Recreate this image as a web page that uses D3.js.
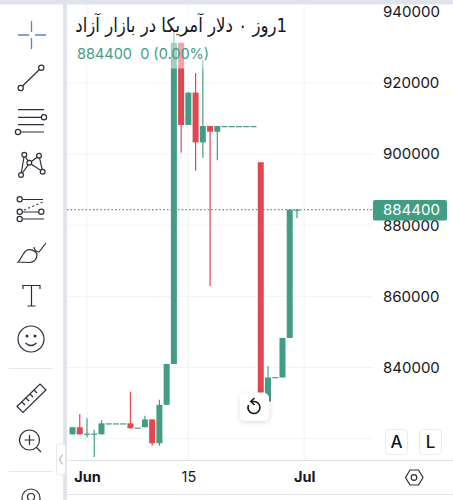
<!DOCTYPE html>
<html><head><meta charset="utf-8">
<script src="https://cdn.jsdelivr.net/npm/d3@7"></script>
<style>html,body{margin:0;padding:0;background:#fff;overflow:hidden}svg{display:block}text{font-family:Inter,"Noto Sans",sans-serif}</style>
</head><body><svg id="c" width="453" height="500"></svg>
<script>
const dates=["05-30","05-31","06-01","06-02","06-03","06-04","06-05","06-06","06-07","06-08","06-09","06-10","06-11","06-12","06-13","06-14","06-15","06-16","06-17","06-18","06-19","06-20","06-21","06-22","06-23","06-24","06-25","06-26","06-27","06-28","06-29","06-30"];
const opens =[821200,823200,821400,821400,821200,824300,824300,824300,824300,823100,823200,825400,818700,829500,841000,931300,908200,917300,903300,907900,906300,907900,907900,907900,907900,907900,897700,830400,837300,837200,848300,884400];
const closes=[823200,821200,821400,821400,824300,824300,824300,824300,822900,823100,825400,818700,829500,841000,931300,908200,917300,903300,907900,906300,907900,907900,907900,907900,907900,907900,833000,837200,837300,848300,884400,884400];
const highs =[823200,826900,825700,822400,825200,824300,824300,824300,833200,823100,826400,825400,830900,841000,935400,931300,917300,922800,926600,907900,907900,907900,907900,907900,907900,907900,897700,840400,837300,848300,884400,884400];
const lows  =[821200,821200,820400,814800,821200,824300,824300,824300,822900,823100,823200,818000,818000,829500,841000,900400,908200,895300,899000,862900,898300,907900,907900,907900,907900,907900,833000,830400,837300,837200,848300,882000];
const gridTicks=[820000,840000,860000,880000,900000,920000];
const priceTicks=[840000,860000,880000,900000,920000,940000];
const lastPrice=884400;
const titleText="1روز ۰ دلار آمریکا در بازار آزاد";
const legendText="884400  0 (0.00%)";
const UP="#439c85",DOWN="#e2464f",GRID="#f2f3f6",FRAME="#e0e3eb",INK="#131722";

const svg=d3.select("#c");
const parse=s=>new Date(Date.UTC(2023,+s.slice(0,2)-1,+s.slice(3)));
const x=d3.scaleUtc().domain([parse("06-01"),parse("07-01")]).range([87,304.2]);
const y=d3.scaleLinear().domain([840000,920000]).range([367.5,83]);
const barW=6;
const plotL=67,plotR=373,axisB=460;

// grid
svg.append("g").selectAll("line").data(gridTicks).join("line")
 .attr("x1",plotL).attr("x2",plotR).attr("y1",d=>y(d)).attr("y2",d=>y(d)).attr("stroke",GRID);
const xTicks=[{d:parse("06-01"),t:"Jun",b:true},{d:parse("06-15"),t:"15",b:false},{d:parse("07-01"),t:"Jul",b:true}];
svg.append("g").selectAll("line").data(xTicks).join("line")
 .attr("x1",d=>x(d.d)).attr("x2",d=>x(d.d)).attr("y1",5).attr("y2",axisB).attr("stroke",GRID);

// last price line
svg.append("line").attr("x1",plotL).attr("x2",plotR).attr("y1",y(lastPrice)).attr("y2",y(lastPrice))
 .attr("stroke",UP).attr("stroke-width",1.2).attr("stroke-dasharray","1.5 2.2");

// candles
const rows=dates.map((d,i)=>({t:parse(d),o:opens[i],c:closes[i],h:highs[i],l:lows[i]}));
const col=d=>d.c<d.o?DOWN:UP;
const g=svg.append("g");
g.selectAll("line").data(rows).join("line")
 .attr("x1",d=>x(d.t)).attr("x2",d=>x(d.t)).attr("y1",d=>y(d.h)).attr("y2",d=>y(d.l))
 .attr("stroke",col).attr("stroke-width",1.2);
g.selectAll("rect").data(rows).join("rect")
 .attr("x",d=>x(d.t)-barW/2).attr("width",barW)
 .attr("y",d=>Math.min(y(d.o),y(d.c)))
 .attr("height",d=>Math.max(1.2,Math.abs(y(d.o)-y(d.c))))
 .attr("fill",col);

// legend veil & text
svg.append("rect").attr("x",plotL+6).attr("y",14).attr("width",222).attr("height",54.5).attr("fill","#fff").attr("opacity",.5);
svg.append("text").attr("transform","translate(287,32) scale(.83,1)").attr("direction","rtl").attr("text-anchor","start")
 .attr("font-size",20).attr("fill",INK).style("font-family","'DejaVu Sans',sans-serif").text(titleText);
svg.append("text").attr("x",77).attr("y",59).attr("font-size",14.5).attr("fill",UP).style("white-space","pre").text(legendText);

// axes
const yAxis=d3.axisRight(y).tickValues(priceTicks).tickSize(0).tickPadding(0).tickFormat(d3.format("d"));
const ya=svg.append("g").attr("transform","translate(383,0)").call(yAxis);
ya.select(".domain").remove();
ya.selectAll("text").attr("font-size",15).attr("fill",INK).style("font-family","Inter");
const xAxis=d3.axisBottom(x).tickValues(xTicks.map(d=>d.d)).tickSize(0).tickPadding(0).tickFormat((d,i)=>xTicks[i].t);
const xa=svg.append("g").attr("transform",`translate(0,${472})`).call(xAxis);
xa.select(".domain").remove();
xa.selectAll("text").attr("font-size",14.5).attr("fill",INK).attr("font-weight",(d,i)=>xTicks[i].b?700:400).style("font-family","Inter");

// price label
svg.append("rect").attr("x",373).attr("y",200).attr("width",74).attr("height",20.5).attr("rx",2).attr("fill",UP);
svg.append("text").attr("x",383).attr("y",y(lastPrice)+5.5).attr("font-size",15).attr("fill","#fff").text(d3.format("d")(lastPrice));

// frame
const fr=svg.append("g").attr("fill",FRAME);
fr.append("rect").attr("x",0).attr("y",0).attr("width",453).attr("height",4.5);
fr.append("rect").attr("x",63).attr("y",0).attr("width",4).attr("height",500);
svg.append("line").attr("x1",67).attr("x2",453).attr("y1",460.5).attr("y2",460.5).attr("stroke",FRAME);
svg.append("line").attr("x1",67).attr("x2",453).attr("y1",494.5).attr("y2",494.5).attr("stroke",FRAME);

// toolbar icons
const ic=svg.append("g").attr("fill","none").attr("stroke","#2a2e39").attr("stroke-width",1.2);
const P=(d,o={})=>{const p=ic.append("path").attr("d",d);for(const k in o)p.attr(k,o[k]);return p;};
const C=(a,b,r=2.6)=>ic.append("circle").attr("cx",a).attr("cy",b).attr("r",r).attr("fill","#fff");
P("M31.5 21v11M31.5 38v11M18 35h11M35 35h11",{stroke:"#5b7fd6","stroke-width":1.3});
P("M22.5 86L39.5 69.5");C(20.7,88);C(41.3,67.7);
P("M18 109.7h26M18 117.3h24M18 124.7h26M21 132h23");C(44,117.3);C(18,132);
P("M24.3 155L21 175L29.5 163L24.3 155M29.5 163L39 155.7L42.7 171.7L29.5 163M21 175L29.5 163");
[[24.3,154.7],[39,155.7],[29.3,162.7],[42.7,171.7],[21,175]].forEach(a=>C(a[0],a[1],2.4));
P("M23 199.5h20M23 212h18M22 219h22");P("M24 210L43 202",{"stroke-dasharray":"2 2.5"});
C(19.7,199.3);C(19.7,211.7);C(41.3,211.7);C(19.7,219);
P("M18 262C21 260 23 252 27 250C30 249 35 250 37 254C37 259 34 262 30 262.5Z");P("M34 247C34 250 37 252 39 252L46 243");
P("M23 289v-3.5h17v3.5M31.5 285.5V305.5M27.5 306h8");
C(31,339,13);
ic.append("circle").attr("cx",27).attr("cy",336).attr("r",.9).attr("fill","#2a2e39");
ic.append("circle").attr("cx",35).attr("cy",336).attr("r",.9).attr("fill","#2a2e39");
P("M25.5 343Q31 348 36.5 343");
P("M9 368.5h44M9 471.5h44",{stroke:"#e6e8ee"});
P("M17 406.5L40 384L46 390L23 412.5Z");
P("M22 402l3 3M26 398l3 3M30 394l3 3M34 390l3 3");
C(29.5,440,10);P("M29.5 435v10M24.5 440h10M36.5 447.5l4.5 4.5");
C(31,498,9);C(31,497,3.5);

// collapse handle
svg.append("rect").attr("x",56.5).attr("y",444).attr("width",9).attr("height",31).attr("rx",3).attr("fill","#fff").attr("stroke","#e6e8ee");
svg.append("path").attr("d","M62.5 454.5L59.5 459.5L62.5 464.5").attr("fill","none").attr("stroke","#b2b5be").attr("stroke-width",1.2);

// rotate button
svg.append("defs").html('<filter id="s" x="-30%" y="-30%" width="160%" height="160%"><feDropShadow dx="0" dy="1.5" stdDeviation="2.5" flood-color="#000" flood-opacity=".14"/></filter>');
svg.append("rect").attr("x",240).attr("y",393).attr("width",29).attr("height",28).attr("rx",5).attr("fill","#fff").attr("filter","url(#s)");
const rb=svg.append("g").attr("fill","none").attr("stroke",INK).attr("stroke-width",1.6);
rb.append("path").attr("d","M248.5 405A6 6 0 1 0 253.5 401.5H251");
rb.append("path").attr("d","M254.5 398L250.8 401.5L254.5 405");

// A / L
[["A",385.5],["L",419.5]].forEach(a=>{
 svg.append("rect").attr("x",a[1]).attr("y",429.5).attr("width",22).attr("height",25).attr("rx",4).attr("fill","#fff").attr("stroke","#e8eaf0");
 svg.append("text").attr("x",a[1]+11).attr("y",448).attr("text-anchor","middle").attr("font-size",17).attr("font-weight",500).attr("fill",INK).text(a[0]);
});
// settings hexagon
const sh=svg.append("g").attr("fill","none").attr("stroke","#2a2e39").attr("stroke-width",1.2);
sh.append("path").attr("d","M405.5 477.5L410 470h8.5L423 477.5L418.5 485H410Z");
sh.append("circle").attr("cx",414).attr("cy",477.5).attr("r",2.8);
</script></body></html>
